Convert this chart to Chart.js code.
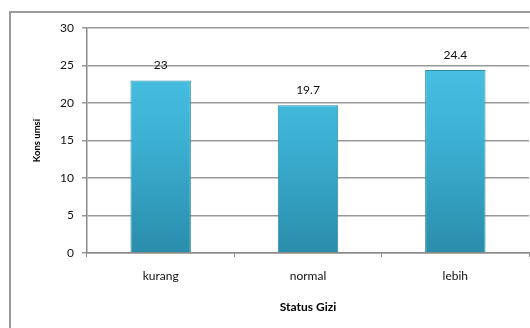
<!DOCTYPE html>
<html>
<head>
<meta charset="utf-8">
<script src="https://cdn.jsdelivr.net/npm/chart.js@4.4.1/dist/chart.umd.min.js"></script>
<style>
  html, body { margin: 0; padding: 0; background: #fff; }
  #wrap { position: relative; width: 530px; height: 328px; filter: blur(0.35px); }
  canvas { display: block; }
</style>
</head>
<body>
<div id="wrap"><canvas id="c" width="530" height="328"></canvas></div>
<script>
// Konsumsi per status gizi
const categories = ['kurang', 'normal', 'lebih'];
const konsumsi = [23, 19.7, 24.4];
const yTicks = [0, 5, 10, 15, 20, 25, 30];

const FONT = 'Lato, "Open Sans", sans-serif';

// Outer frame around the chart (left and top edges)
const framePlugin = {
  id: 'frame',
  beforeDraw(chart) {
    const ctx = chart.ctx;
    ctx.save();
    ctx.strokeStyle = '#9a9a9a';
    ctx.lineWidth = 2;
    ctx.beginPath();
    ctx.moveTo(10, 328);
    ctx.lineTo(10, 12);
    ctx.lineTo(530, 12);
    ctx.stroke();
    ctx.restore();
  }
};

// Value labels above each bar
const valueLabels = {
  id: 'valueLabels',
  afterDatasetsDraw(chart) {
    const ctx = chart.ctx;
    const meta = chart.getDatasetMeta(0);
    ctx.save();
    ctx.font = '12px ' + FONT;
    ctx.fillStyle = '#111';
    ctx.textAlign = 'center';
    ctx.textBaseline = 'middle';
    meta.data.forEach((bar, i) => {
      ctx.fillText(String(konsumsi[i]), bar.x, bar.y - 15);
    });
    ctx.restore();
  }
};

function barGradient(context) {
  const chart = context.chart;
  const area = chart.chartArea;
  if (!area) return '#3bb4d8';
  const g = chart.ctx.createLinearGradient(0, area.top, 0, area.bottom);
  g.addColorStop(0, '#4cc8ea');
  g.addColorStop(0.5, '#3cb0d3');
  g.addColorStop(1, '#2a8dab');
  return g;
}

new Chart(document.getElementById('c'), {
  type: 'bar',
  data: {
    labels: categories,
    datasets: [{
      data: konsumsi,
      backgroundColor: barGradient,
      borderColor: '#2b8aa5',
      borderWidth: 1,
      barPercentage: 0.41,
      categoryPercentage: 1
    }]
  },
  options: {
    responsive: false,
    animation: false,
    layout: { padding: { top: 28, right: 1, left: 0, bottom: 0 } },
    plugins: { legend: { display: false }, tooltip: { enabled: false } },
    scales: {
      x: {
        grid: {
          offset: true,
          drawOnChartArea: false,
          drawTicks: true,
          tickLength: 4,
          color: '#8a8a8a',
          lineWidth: 1
        },
        border: { color: '#8a8a8a', width: 1.5 },
        ticks: { color: '#111', font: { family: FONT, size: 12 }, padding: 12 },
        title: {
          display: true,
          text: 'Status Gizi',
          color: '#000',
          font: { family: FONT, size: 12, weight: 'bold' },
          padding: { top: 14, bottom: 14 }
        },
        afterFit(scale) { scale.height = 75; }
      },
      y: {
        min: 0,
        max: 30,
        afterBuildTicks(scale) { scale.ticks = yTicks.map(v => ({ value: v })); },
        grid: {
          color: '#999',
          lineWidth: 1.5,
          drawTicks: true,
          tickLength: 5
        },
        border: { color: '#8a8a8a', width: 1.5 },
        ticks: { color: '#111', font: { family: FONT, size: 12 }, padding: 8 },
        title: {
          display: true,
          text: 'Kons umsi',
          color: '#000',
          font: { family: FONT, size: 9.5, weight: 'bold' },
          padding: { top: 31, bottom: 0 }
        },
        afterFit(scale) { scale.width = 87; }
      }
    }
  },
  plugins: [framePlugin, valueLabels]
});
</script>
</body>
</html>
